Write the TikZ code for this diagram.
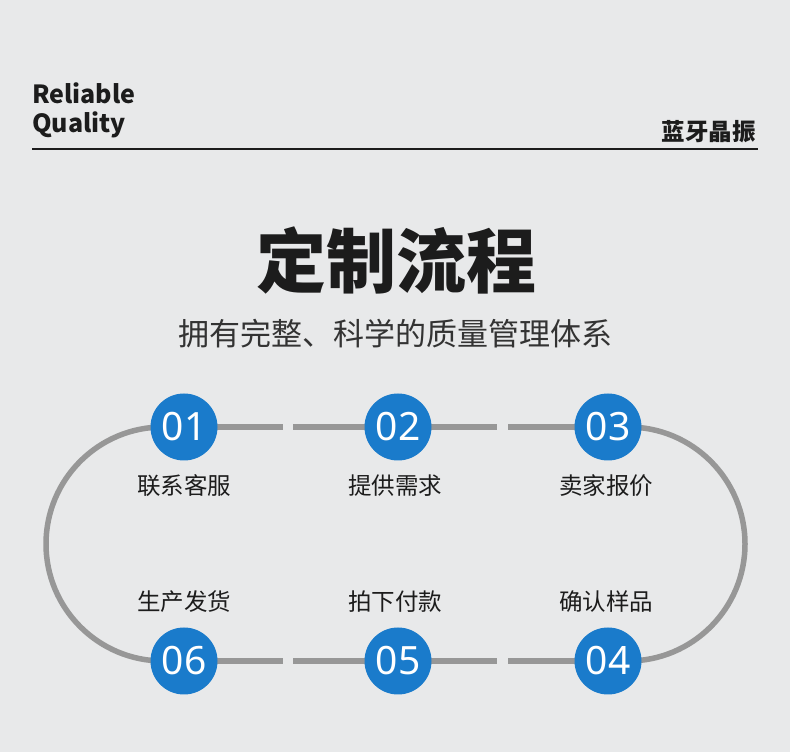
\documentclass[tikz,border=0pt]{standalone}
\usepackage{fontspec}
\setmainfont{Noto Sans}
\newfontfamily\cjk{Noto Sans CJK SC}
\usetikzlibrary{backgrounds,calc,positioning}
\definecolor{paper}{HTML}{E8E9EA}
\definecolor{stepblue}{HTML}{1A7BCB}
\definecolor{trackgray}{HTML}{979797}
\definecolor{inkblack}{HTML}{1C1C1C}

\begin{document}
\begin{tikzpicture}[
    x=1pt, y=1pt,
    track/.style={trackgray, line width=5.5pt},
    stepdot/.style={circle, fill=stepblue, minimum size=67pt, inner sep=0pt, text=white, font=\fontsize{39}{39}\selectfont},
    steplabel/.style={text=inkblack, font=\cjk\fontsize{23.5}{23.5}\selectfont},
    headline/.style={text=inkblack, inner sep=0pt}
]

% -------- geometry --------
% yT / yB = top and bottom track, R = radius of the end loops
\def\yT{325}
\def\yB{91}
\def\R{117}
\def\xL{163}
\def\xR{628}

\useasboundingbox (0,0) rectangle (790,752);

% ================================================================
% HEADER
% ================================================================
\node[headline, anchor=base west, font=\cjk\bfseries\fontsize{25}{25}\selectfont] (rel) at (32,648) {Reliable};
\node[headline, anchor=base west, font=\cjk\bfseries\fontsize{25}{25}\selectfont] (qual) at (32,619) {Quality};
\node[headline, anchor=east, font=\cjk\bfseries\fontsize{23.5}{23.5}\selectfont] (brand) at (756,620) {蓝牙晶振};
\draw[inkblack, line width=2pt] (32,603) -- (758,603);

\node[headline, font=\cjk\bfseries\fontsize{70}{70}\selectfont] (title) at (396,492) {定制流程};
\node[headline, font=\cjk\fontsize{31}{31}\selectfont, text=black!80] (subtitle) at (395,418) {拥有完整、科学的质量管理体系};

% ================================================================
% STEPS
% ================================================================
\node[stepdot] (s1) at (184,\yT) {01};
\node[stepdot] (s2) at (398,\yT) {02};
\node[stepdot] (s3) at (608,\yT) {03};
\node[stepdot] (s4) at (608,\yB) {04};
\node[stepdot] (s5) at (398,\yB) {05};
\node[stepdot] (s6) at (184,\yB) {06};

\node[steplabel] (l1) at (184,266) {联系客服};
\node[steplabel] (l2) at (395,266) {提供需求};
\node[steplabel] (l3) at (606,266) {卖家报价};
\node[steplabel] (l4) at (606,150) {确认样品};
\node[steplabel] (l5) at (395,150) {拍下付款};
\node[steplabel] (l6) at (184,150) {生产发货};

% small breaks halfway between neighbouring steps
\coordinate (g12a) at ($(s1)!0.5!(s2)+(-8,0)$);
\coordinate (g12b) at ($(s1)!0.5!(s2)+(2,0)$);
\coordinate (g23a) at ($(s2)!0.5!(s3)+(-6,0)$);
\coordinate (g23b) at ($(s2)!0.5!(s3)+(5,0)$);
\coordinate (g65a) at ($(s6)!0.5!(s5)+(-8,0)$);
\coordinate (g65b) at ($(s6)!0.5!(s5)+(2,0)$);
\coordinate (g54a) at ($(s5)!0.5!(s4)+(-6,0)$);
\coordinate (g54b) at ($(s5)!0.5!(s4)+(5,0)$);

\begin{scope}[on background layer]
\fill[paper] (0,0) rectangle (790,752);
\draw[track] (s1.center) -- (g12a);
\draw[track] (g12b) -- (s2.center);
\draw[track] (s2.center) -- (g23a);
\draw[track] (g23b) -- (s3.center);
\draw[track] (s6.center) -- (g65a);
\draw[track] (g65b) -- (s5.center);
\draw[track] (s5.center) -- (g54a);
\draw[track] (g54b) -- (s4.center);
% end loops
\draw[track] (s1.center) -- (\xL,\yT) arc[start angle=90, end angle=270, radius=\R] -- (s6.center);
\draw[track] (s3.center) -- (\xR,\yT) arc[start angle=90, end angle=-90, radius=\R] -- (s4.center);
\end{scope}

\end{tikzpicture}
\end{document}
